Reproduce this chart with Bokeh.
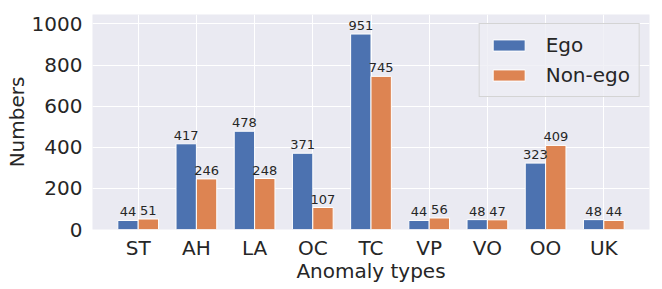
import numpy as np
from bokeh.plotting import figure
from bokeh.models import Range1d, FixedTicker, ColumnDataSource, Legend, LegendItem
from bokeh.core.properties import value
from bokeh.embed import file_html
from bokeh.resources import INLINE

categories = ["ST", "AH", "LA", "OC", "TC", "VP", "VO", "OO", "UK"]
ego = [44, 417, 478, 371, 951, 44, 48, 323, 48]
non_ego = [51, 246, 248, 107, 745, 56, 47, 409, 44]
y_ticks = [0, 200, 400, 600, 800, 1000]

FONT = "DejaVu Sans"
TXT = "#262626"
BLUE = "#4C72B0"
ORANGE = "#DD8452"
W = 0.35

x = np.arange(len(categories))
src_e = ColumnDataSource(dict(x=x - W / 2, top=ego, lbl=[str(v) for v in ego]))
src_n = ColumnDataSource(dict(x=x + W / 2, top=non_ego, lbl=[str(v) for v in non_ego]))

p = figure(width=655, height=285,
           x_range=Range1d(-0.785, 8.785), y_range=Range1d(0, 1046),
           min_border_left=92, min_border_right=6, min_border_top=14, min_border_bottom=55,
           output_backend="svg", toolbar_location=None,
           background_fill_color="#EAEAF2", border_fill_color="white")
p.outline_line_color = None

r1 = p.vbar(x="x", top="top", width=W, source=src_e, fill_color=BLUE, line_color="white", line_width=1)
r2 = p.vbar(x="x", top="top", width=W, source=src_n, fill_color=ORANGE, line_color="white", line_width=1)

for src in (src_e, src_n):
    p.text(x="x", y="top", text="lbl", source=src, text_align="center", text_baseline="bottom",
           y_offset=-4, text_font_size="13px", text_color=TXT, text_font=value(FONT))

p.xaxis.ticker = FixedTicker(ticks=list(x))
p.xaxis.major_label_overrides = {int(i): c for i, c in zip(x, categories)}
p.yaxis.ticker = FixedTicker(ticks=y_ticks)

for ax in (p.xaxis, p.yaxis):
    ax.axis_line_color = None
    ax.major_tick_line_color = None
    ax.minor_tick_line_color = None
    ax.major_tick_out = 0
    ax.major_tick_in = 0
    ax.minor_tick_out = 0
    ax.minor_tick_in = 0
    ax.major_label_text_font_size = "20px"
    ax.major_label_text_font = FONT
    ax.major_label_text_color = TXT
    ax.axis_label_text_font_size = "20px"
    ax.axis_label_text_font = FONT
    ax.axis_label_text_color = TXT
    ax.axis_label_text_font_style = "normal"

p.xaxis.axis_label = "Anomaly types"
p.yaxis.axis_label = "Numbers"
p.xaxis.major_label_standoff = 6
p.yaxis.major_label_standoff = 10
p.xaxis.axis_label_standoff = -4
p.yaxis.axis_label_standoff = 0

p.grid.grid_line_color = "white"
p.grid.grid_line_width = 1
p.xgrid.ticker = FixedTicker(ticks=list(x))

legend = Legend(items=[LegendItem(label="Ego", renderers=[r1]),
                       LegendItem(label="Non-ego", renderers=[r2])],
                location="top_right")
legend.label_text_font_size = "20px"
legend.label_text_font = FONT
legend.label_text_color = TXT
legend.glyph_width = 40
legend.glyph_height = 14
legend.background_fill_color = "#EEEEF4"
legend.background_fill_alpha = 0.8
legend.border_line_color = "#D0D0D0"
legend.border_line_alpha = 0.9
legend.margin = 9
legend.padding = 9
legend.spacing = 6
legend.label_standoff = 17
p.add_layout(legend)

open("out.html", "w").write(file_html(p, INLINE))
